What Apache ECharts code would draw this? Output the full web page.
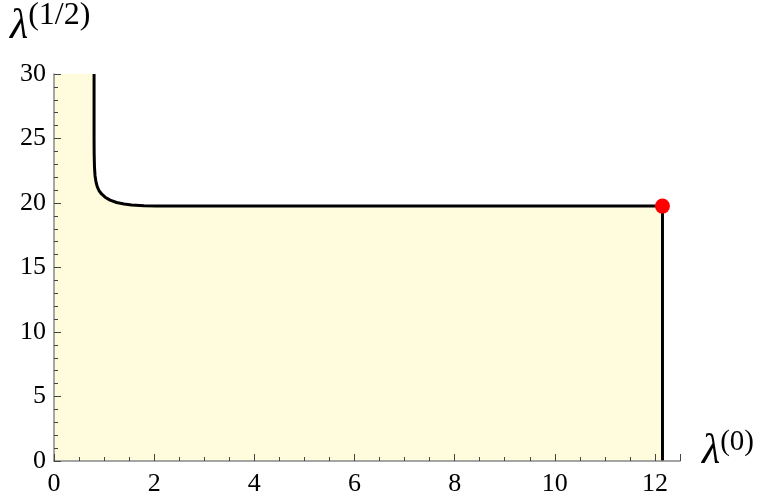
<!DOCTYPE html>
<html>
<head>
<meta charset="utf-8">
<script src="https://cdn.jsdelivr.net/npm/echarts@6/dist/echarts.min.js"></script>
<style>
  html, body { margin: 0; padding: 0; background: #fff; }
  #main { width: 760px; height: 500px; }
</style>
</head>
<body>
<div id="main"></div>
<script>
// boundary curve
const curveX = [0.8, 0.8, 0.802, 0.808, 0.82, 0.84, 0.865, 0.9, 0.95, 1.02, 1.12, 1.25, 1.4, 1.55, 1.8, 2.05, 12.15];
const curveY = [30, 25, 23.8, 22.8, 22.1, 21.6, 21.25, 20.95, 20.7, 20.45, 20.22, 20.04, 19.92, 19.85, 19.79, 19.76, 19.76];
const dropY = [19.76, 0];
const pointX = [12.15];
const pointY = [19.76];
const xTicks = [0, 2, 4, 6, 8, 10, 12];
const yTicks = [0, 5, 10, 15, 20, 25, 30];

const font = "'Liberation Serif', 'DejaVu Serif', serif";

let boundary = curveX.map((x, i) => [x, curveY[i]]);
boundary.push([pointX[0], dropY[1]]);
let filled = [[0, 30]].concat(boundary);
let dot = pointX.map((x, i) => [x, pointY[i]]);

let chart = echarts.init(document.getElementById('main'));

function axisOpts(max, interval, minorSplit, ticks, margin) {
  return {
    type: 'value',
    min: 0,
    max: max,
    interval: interval,
    z: 10,
    axisLine: { show: true, lineStyle: { color: '#888', width: 1.5 } },
    axisTick: { show: true, inside: true, length: 7, lineStyle: { color: '#444', width: 1 } },
    minorTick: { show: true, splitNumber: minorSplit, length: 4, lineStyle: { color: '#444', width: 1 } },
    splitLine: { show: false },
    axisLabel: {
      margin: margin,
      fontFamily: font,
      fontSize: 26,
      color: '#000',
      showMaxLabel: ticks.indexOf(max) >= 0,
      formatter: v => ticks.indexOf(v) >= 0 ? String(v) : ''
    }
  };
}

let options = {
  animation: false,
  grid: { left: 54, right: 80, top: 74, bottom: 39 },
  xAxis: axisOpts(12.5, 2, 4, xTicks, 10),
  yAxis: axisOpts(30, 5, 5, yTicks, 8),
  graphic: [
    {
      type: 'text',
      left: 10,
      top: 0,
      style: {
        text: '{l|λ}{s|(1/2)}',
        rich: {
          l: { fontFamily: font, fontStyle: 'italic', fontSize: 42, fill: '#000', verticalAlign: 'bottom' },
          s: { fontFamily: font, fontSize: 32, fill: '#000', verticalAlign: 'top', padding: [0, 0, 16, 0] }
        }
      }
    },
    {
      type: 'text',
      left: 702,
      top: 428,
      style: {
        text: '{l|λ}{s|(0)}',
        rich: {
          l: { fontFamily: font, fontStyle: 'italic', fontSize: 42, fill: '#000', verticalAlign: 'bottom' },
          s: { fontFamily: font, fontSize: 29, fill: '#000', verticalAlign: 'top', padding: [0, 0, 16, 0] }
        }
      }
    }
  ],
  series: [
    {
      name: 'region',
      type: 'line',
      data: filled,
      showSymbol: false,
      lineStyle: { width: 0 },
      areaStyle: { color: '#fefcdc', opacity: 1, origin: 'start' },
      z: 1
    },
    {
      name: 'boundary',
      type: 'line',
      data: boundary,
      showSymbol: false,
      lineStyle: { color: '#000', width: 3, join: 'round' },
      z: 3
    },
    {
      name: 'corner',
      type: 'scatter',
      data: dot,
      symbolSize: 15,
      itemStyle: { color: '#ff0000', opacity: 1 },
      z: 5
    }
  ]
};

chart.setOption(options);
</script>
</body>
</html>
